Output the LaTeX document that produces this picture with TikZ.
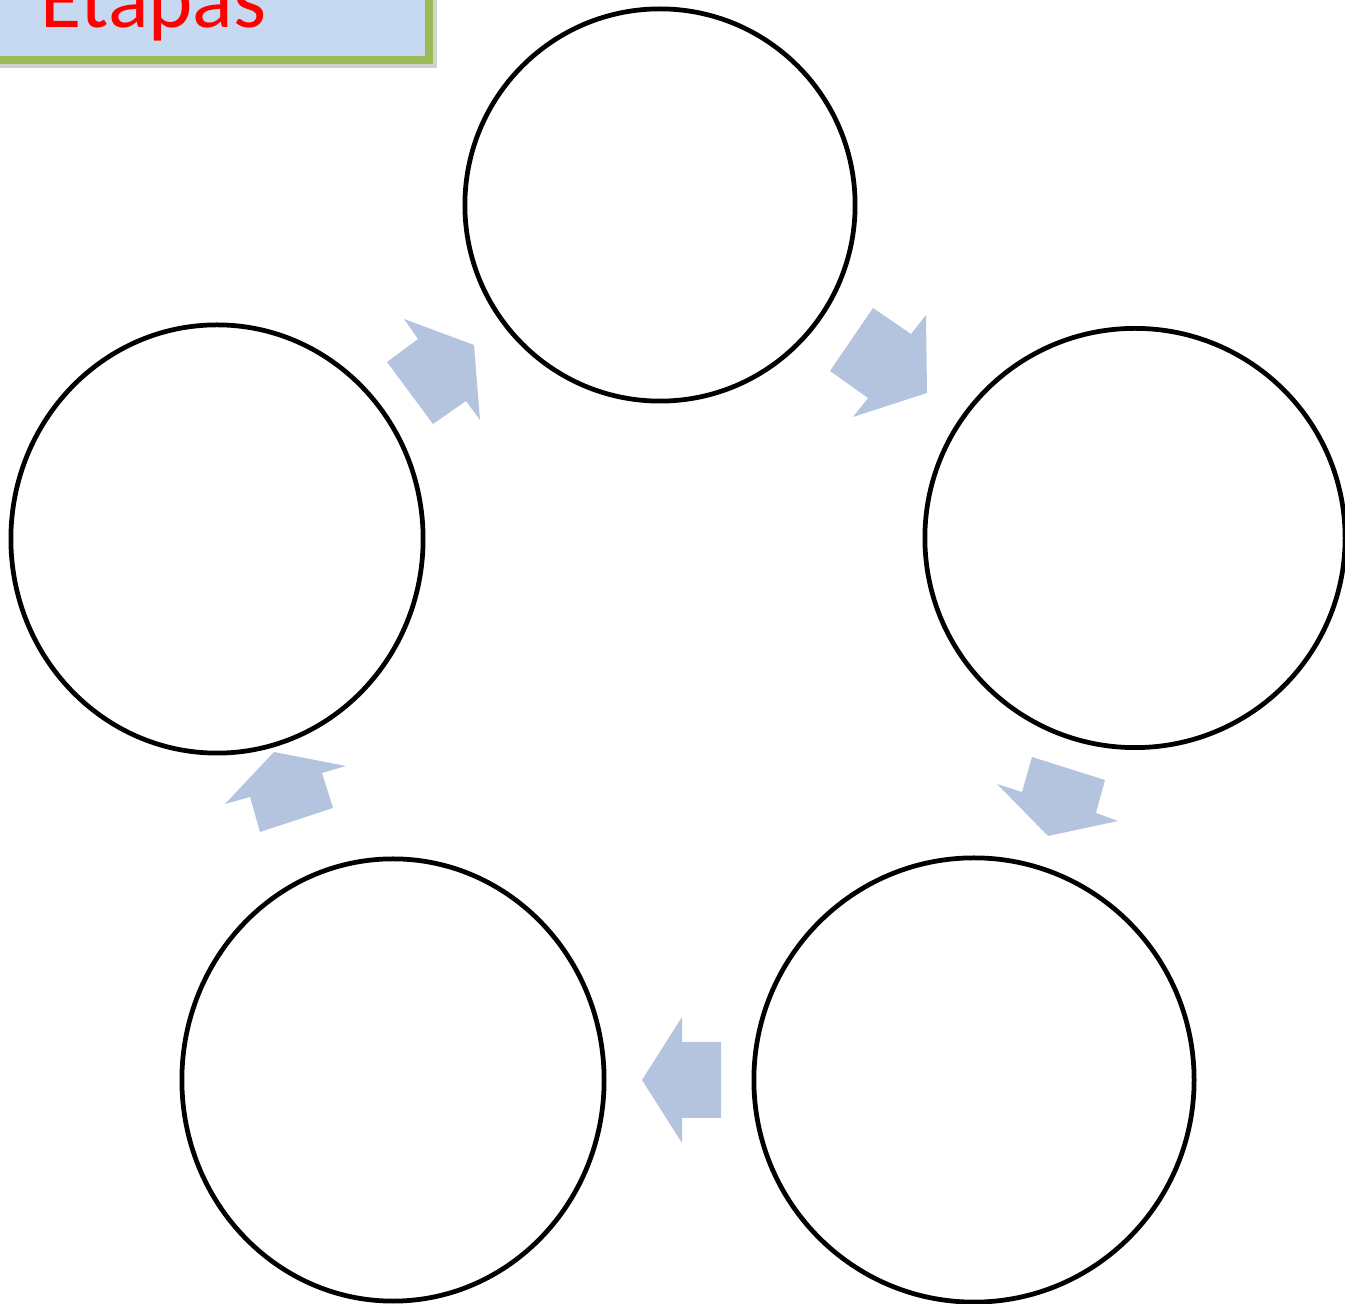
\documentclass[tikz,border=0pt]{standalone}
\usepackage{fontspec}
\setmainfont{Carlito}
\usetikzlibrary{shapes.geometric}
\definecolor{arrowblue}{RGB}{180,196,222}
\definecolor{titlefill}{RGB}{198,217,240}
\definecolor{titleborder}{RGB}{155,187,89}
\tikzset{
  stage/.style={ellipse, draw=black, line width=1.35pt, fill=white, inner sep=0pt},
  blockarrow/.style={fill=arrowblue, draw=none},
}
\begin{document}
\begin{tikzpicture}[x=0.01cm, y=-0.01cm]
\useasboundingbox (0,0) rectangle (1345,1304);
% title box
\fill[black!18] (-40,-40) rectangle (437,68);
\draw[line width=2pt, draw=titleborder, fill=titlefill] (-40,-40) rectangle (429,60);
\node[anchor=base west, inner sep=0pt, text=red, font=\fontsize{24}{28}\selectfont] (title) at (40,28) {Etapas};
% stages
\node[stage, minimum width=3.9cm, minimum height=3.92cm] (s1) at (660,205) {};
\node[stage, minimum width=4.2cm, minimum height=4.19cm] (s2) at (1135,538) {};
\node[stage, minimum width=4.4cm, minimum height=4.44cm] (s3) at (974,1080) {};
\node[stage, minimum width=4.22cm, minimum height=4.42cm] (s4) at (393,1080) {};
\node[stage, minimum width=4.12cm, minimum height=4.28cm] (s5) at (217,539) {};
% block arrows
\fill[blockarrow] (404,319) -- (474,345) -- (480,420) -- (466,401) -- (433,424) -- (387,362) -- (418,339) -- cycle;
\fill[blockarrow] (873,308) -- (911,334) -- (926,315) -- (927,393) -- (853,417) -- (868,398) -- (830,371) -- cycle;
\fill[blockarrow] (1032,757) -- (1105,780) -- (1096,813) -- (1118,821) -- (1048,836) -- (997,784) -- (1022,792) -- cycle;
\fill[blockarrow] (682,1017) -- (682,1042) -- (721,1042) -- (721,1118) -- (682,1118) -- (682,1143) -- (642,1080) -- cycle;
\fill[blockarrow] (274,752) -- (346,766) -- (322,773) -- (333,808) -- (260,832) -- (250,797) -- (225,804) -- cycle;
\end{tikzpicture}
\end{document}
